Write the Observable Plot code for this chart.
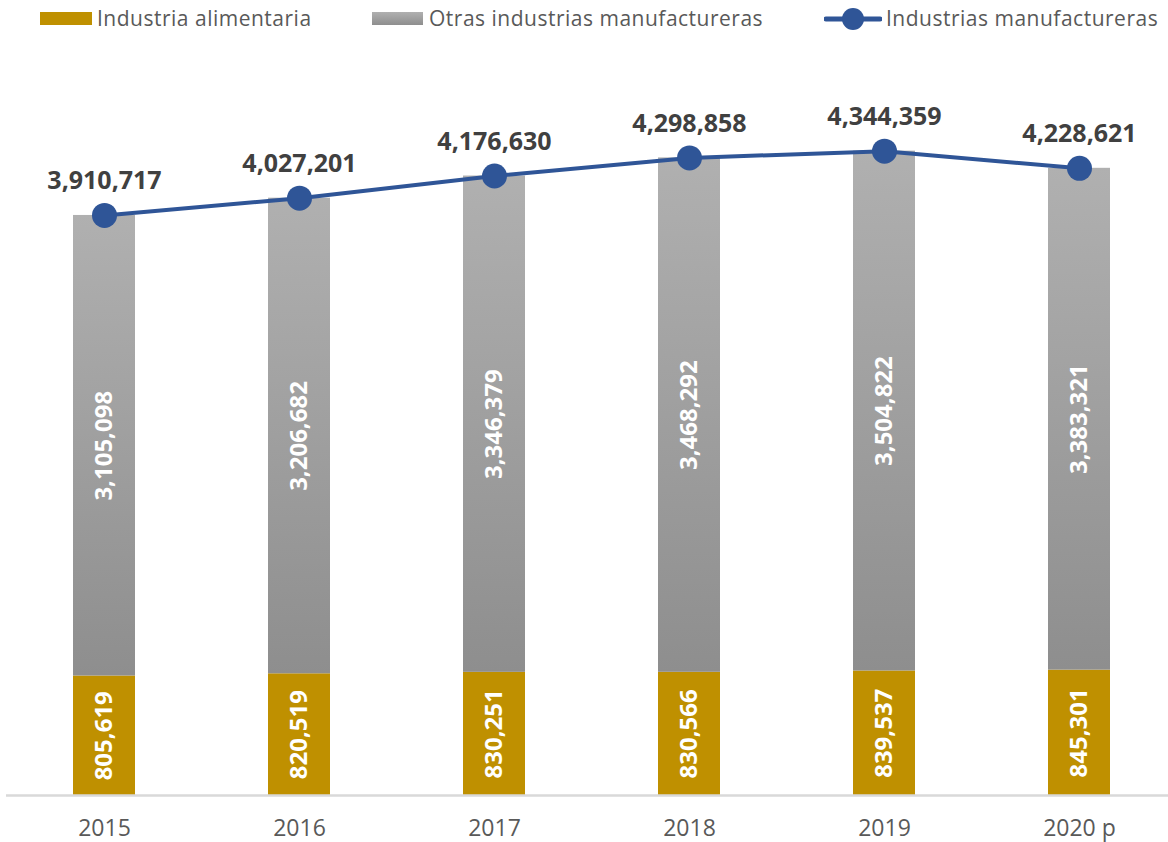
<!DOCTYPE html>
<html><head><meta charset="utf-8">
<script src="https://cdn.jsdelivr.net/npm/d3@7"></script>
<script src="https://cdn.jsdelivr.net/npm/@observablehq/plot@0.6"></script>
<style>
body{margin:0;background:#fff;font-family:"Open Sans",sans-serif;}
#legend{position:relative;height:36px;width:1168px;}
.sw{position:absolute;}
.lt{position:absolute;top:0;line-height:36px;font-size:21px;letter-spacing:0.5px;color:#595959;white-space:nowrap;}
#chart svg{display:block;}
</style></head><body>
<div id="legend"></div><div id="chart"></div>
<script>
const years = ["2015","2016","2017","2018","2019","2020 p"];
const food = [805619, 820519, 830251, 830566, 839537, 845301];
const other = [3105098, 3206682, 3346379, 3468292, 3504822, 3383321];
const total = [3910717, 4027201, 4176630, 4298858, 4344359, 4228621];
const seriesNames = ["Industria alimentaria", "Otras industrias manufactureras", "Industrias manufactureras"];
const colors = {food: "#bf9000", grayTop: "#b0b0b0", grayBottom: "#8e8e8e", line: "#2f5597"};

const rows = years.map((year, i) => ({year, food: food[i], other: other[i], top: food[i] + other[i], total: total[i]}));
const fmt = d3.format(",");

// Legend
const lg = document.getElementById("legend");
lg.innerHTML = `
<div class="sw" style="left:40px;top:12px;width:52px;height:13px;background:${colors.food}"></div>
<div class="lt" style="left:97px">${seriesNames[0]}</div>
<div class="sw" style="left:372px;top:12px;width:51px;height:13px;background:linear-gradient(${colors.grayTop},${colors.grayBottom})"></div>
<div class="lt" style="left:429px">${seriesNames[1]}</div>
<svg class="sw" style="left:824px;top:6px" width="58" height="26"><line x1="2" y1="13" x2="56" y2="13" stroke="${colors.line}" stroke-width="5" stroke-linecap="round"/><circle cx="29" cy="13" r="11" fill="${colors.line}"/></svg>
<div class="lt" style="left:886px">${seriesNames[2]}</div>`;

const defs = () => {
  const ns = "http://www.w3.org/2000/svg";
  const d = document.createElementNS(ns, "defs");
  d.innerHTML = `<linearGradient id="grayGrad" x1="0" y1="0" x2="0" y2="1"><stop offset="0" stop-color="${colors.grayTop}"/><stop offset="1" stop-color="${colors.grayBottom}"/></linearGradient>`;
  return d;
};

const chart = Plot.plot({
  width: 1168,
  height: 806,
  marginLeft: 6,
  marginRight: 0,
  marginTop: 0,
  marginBottom: 47,
  style: {fontFamily: "'Open Sans', sans-serif", background: "white"},
  x: {type: "band", domain: years, range: [7, 1177], paddingInner: 0.682, paddingOuter: 0.341},
  y: {domain: [0, 5000000], range: [759, 17.4], axis: null},
  marks: [
    defs,
    Plot.barY(rows, {x: "year", y1: 0, y2: "food", fill: colors.food}),
    Plot.barY(rows, {x: "year", y1: "food", y2: "top", fill: "url(#grayGrad)"}),
    Plot.ruleY([0], {stroke: "#d9d9d9", strokeWidth: 2.5}),
    Plot.axisX({tickSize: 0, tickPadding: 24, fontSize: 23, color: "#595959", label: null}),
    Plot.text(rows, {x: "year", y: d => d.food / 2, text: d => fmt(d.food), rotate: -90, fill: "white", fontWeight: "bold", fontSize: 24, letterSpacing: 0.5}),
    Plot.text(rows, {x: "year", y: d => d.food + d.other / 2, text: d => fmt(d.other), rotate: -90, fill: "white", fontWeight: "bold", fontSize: 24, letterSpacing: 0.5}),
    Plot.line(rows, {x: "year", y: "total", stroke: colors.line, strokeWidth: 4}),
    Plot.dot(rows, {x: "year", y: "total", r: 12.5, fill: colors.line}),
    Plot.text(rows, {x: "year", y: "total", text: d => fmt(d.total), dy: -34, fill: "#404040", fontWeight: "bold", fontSize: 25, letterSpacing: 0.5})
  ]
});
document.getElementById("chart").appendChild(chart);
</script>
</body></html>
